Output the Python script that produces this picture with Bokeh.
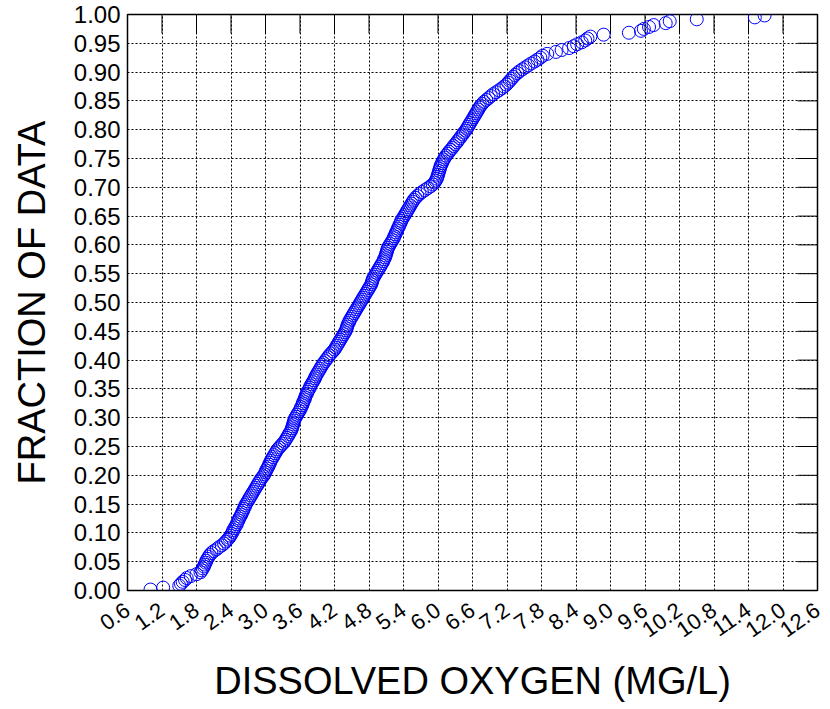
import math
from bokeh.plotting import figure
from bokeh.models import Range1d, FixedTicker, ColumnDataSource
from bokeh.embed import file_html
from bokeh.resources import INLINE

do_values = [
    1.00, 1.22, 1.50, 1.53, 1.56, 1.60, 1.63, 1.70, 1.80, 1.87,
    1.89, 1.91, 1.93, 1.94, 1.96, 1.97, 1.99, 2.01, 2.03, 2.06,
    2.10, 2.15, 2.19, 2.24, 2.28, 2.31, 2.34, 2.37, 2.39, 2.41,
    2.43, 2.44, 2.46, 2.48, 2.50, 2.51, 2.53, 2.54, 2.56, 2.58,
    2.59, 2.61, 2.62, 2.64, 2.65, 2.67, 2.69, 2.71, 2.73, 2.75,
    2.77, 2.79, 2.81, 2.83, 2.85, 2.87, 2.89, 2.91, 2.93, 2.96,
    2.98, 3.00, 3.01, 3.03, 3.05, 3.06, 3.08, 3.09, 3.11, 3.13,
    3.15, 3.17, 3.19, 3.21, 3.24, 3.27, 3.30, 3.33, 3.35, 3.37,
    3.39, 3.41, 3.43, 3.45, 3.46, 3.47, 3.48, 3.49, 3.50, 3.51,
    3.53, 3.55, 3.57, 3.59, 3.61, 3.62, 3.64, 3.65, 3.66, 3.68,
    3.69, 3.70, 3.72, 3.73, 3.75, 3.77, 3.78, 3.80, 3.82, 3.84,
    3.86, 3.87, 3.89, 3.91, 3.93, 3.95, 3.97, 3.99, 4.01, 4.04,
    4.06, 4.09, 4.11, 4.14, 4.17, 4.20, 4.22, 4.24, 4.26, 4.28,
    4.30, 4.32, 4.34, 4.36, 4.38, 4.40, 4.41, 4.42, 4.43, 4.45,
    4.46, 4.48, 4.50, 4.52, 4.54, 4.56, 4.58, 4.60, 4.62, 4.64,
    4.66, 4.68, 4.70, 4.72, 4.74, 4.76, 4.78, 4.80, 4.82, 4.84,
    4.85, 4.86, 4.87, 4.89, 4.91, 4.93, 4.95, 4.97, 4.99, 5.01,
    5.03, 5.05, 5.06, 5.08, 5.09, 5.10, 5.11, 5.12, 5.13, 5.15,
    5.17, 5.19, 5.21, 5.23, 5.24, 5.26, 5.27, 5.29, 5.30, 5.32,
    5.33, 5.35, 5.36, 5.38, 5.40, 5.42, 5.44, 5.46, 5.48, 5.50,
    5.52, 5.54, 5.56, 5.58, 5.61, 5.64, 5.68, 5.72, 5.77, 5.82,
    5.87, 5.91, 5.94, 5.96, 5.98, 5.99, 6.00, 6.01, 6.02, 6.03,
    6.04, 6.05, 6.07, 6.08, 6.10, 6.12, 6.14, 6.17, 6.19, 6.22,
    6.25, 6.27, 6.30, 6.33, 6.35, 6.38, 6.40, 6.43, 6.45, 6.48,
    6.50, 6.52, 6.54, 6.56, 6.58, 6.60, 6.62, 6.64, 6.66, 6.68,
    6.70, 6.72, 6.74, 6.77, 6.80, 6.84, 6.88, 6.92, 6.96, 7.01,
    7.06, 7.11, 7.15, 7.19, 7.22, 7.25, 7.28, 7.31, 7.34, 7.38,
    7.42, 7.47, 7.52, 7.57, 7.62, 7.68, 7.73, 7.78, 7.82, 7.90,
    8.05, 8.15, 8.28, 8.36, 8.42, 8.50, 8.56, 8.60, 8.65, 8.88,
    9.32, 9.53, 9.58, 9.67, 9.75, 9.96, 10.03, 10.50, 11.51, 11.68,
]

x_ticks = [0.6, 1.2, 1.8, 2.4, 3.0, 3.6, 4.2, 4.8, 5.4, 6.0, 6.6,
           7.2, 7.8, 8.4, 9.0, 9.6, 10.2, 10.8, 11.4, 12.0, 12.6]
x_tick_labels = ["0.6", "1.2", "1.8", "2.4", "3.0", "3.6", "4.2", "4.8",
                 "5.4", "6.0", "6.6", "7.2", "7.8", "8.4", "9.0", "9.6",
                 "10.2", "10.8", "11.4", "12.0", "12.6"]
y_ticks = [0.0, 0.05, 0.1, 0.15, 0.2, 0.25, 0.3, 0.35, 0.4, 0.45, 0.5,
           0.55, 0.6, 0.65, 0.7, 0.75, 0.8, 0.85, 0.9, 0.95, 1.0]
y_tick_labels = ["0.00", "0.05", "0.10", "0.15", "0.20", "0.25", "0.30",
                 "0.35", "0.40", "0.45", "0.50", "0.55", "0.60", "0.65",
                 "0.70", "0.75", "0.80", "0.85", "0.90", "0.95", "1.00"]

x_title = "DISSOLVED OXYGEN (MG/L)"
y_title = "FRACTION OF DATA"

n = len(do_values)
fraction = [(i + 0.5) / n for i in range(n)]  # empirical CDF plotting positions
src = ColumnDataSource(dict(x=do_values, y=fraction))

FONT = "Liberation Sans"
x_start, x_end = x_ticks[0], x_ticks[-1]
y_start, y_end = y_ticks[0], y_ticks[-1]

p = figure(width=830, height=709,
           x_range=Range1d(x_start, x_end),
           y_range=Range1d(y_start, y_end),
           output_backend="svg", toolbar_location=None,
           min_border_left=127, min_border_right=13,
           min_border_top=14, min_border_bottom=119)
p.background_fill_color = "white"
p.border_fill_color = "white"
p.outline_line_color = "black"
p.outline_line_width = 1.5

# grid
p.xgrid.ticker = FixedTicker(ticks=x_ticks)
p.ygrid.ticker = FixedTicker(ticks=y_ticks)
for g in (p.xgrid, p.ygrid):
    g.grid_line_color = "black"
    g.grid_line_dash = "2 2"
    g.grid_line_width = 1
    g.grid_line_alpha = 1.0

# bottom axis
xa = p.xaxis[0]
xa.ticker = FixedTicker(ticks=x_ticks)
xa.major_label_overrides = {t: s for t, s in zip(x_ticks, x_tick_labels)}
xa.major_label_orientation = 0.61
xa.major_label_text_font = FONT
xa.major_label_text_font_size = "22px"
xa.major_label_text_color = "black"
xa.major_tick_in = 0
xa.major_tick_out = 0
xa.minor_tick_in = 0
xa.minor_tick_out = 0
xa.major_label_standoff = 17
xa.axis_line_color = "black"
xa.axis_label = x_title
xa.axis_label_text_font = FONT
xa.axis_label_text_font_size = "38px"
xa.axis_label_text_font_style = "normal"
xa.axis_label_text_color = "black"
xa.axis_label_standoff = 13

# left axis
ya = p.yaxis[0]
ya.ticker = FixedTicker(ticks=y_ticks)
ya.major_label_overrides = {t: s for t, s in zip(y_ticks, y_tick_labels)}
ya.major_label_text_font = FONT
ya.major_label_text_font_size = "24px"
ya.major_label_text_color = "black"
ya.major_tick_in = 0
ya.major_tick_out = 0
ya.minor_tick_in = 0
ya.minor_tick_out = 0
ya.major_label_standoff = 7
ya.axis_line_color = "black"
ya.axis_label = y_title
ya.axis_label_text_font = FONT
ya.axis_label_text_font_size = "38px"
ya.axis_label_text_font_style = "normal"
ya.axis_label_text_color = "black"
ya.axis_label_standoff = 18

# inward tick marks on the top and right edges of the frame
p.ray(x=x_ticks, y=[y_end] * len(x_ticks), length=19, length_units="screen",
      angle=-math.pi / 2, line_color="black", line_width=1)
p.ray(x=[x_end] * len(y_ticks), y=y_ticks, length=20, length_units="screen",
      angle=math.pi, line_color="black", line_width=1)

p.scatter("x", "y", source=src, marker="circle", size=13,
          fill_color=None, line_color="#0000ff", line_width=1)

open("out.html", "w").write(file_html(p, INLINE))
